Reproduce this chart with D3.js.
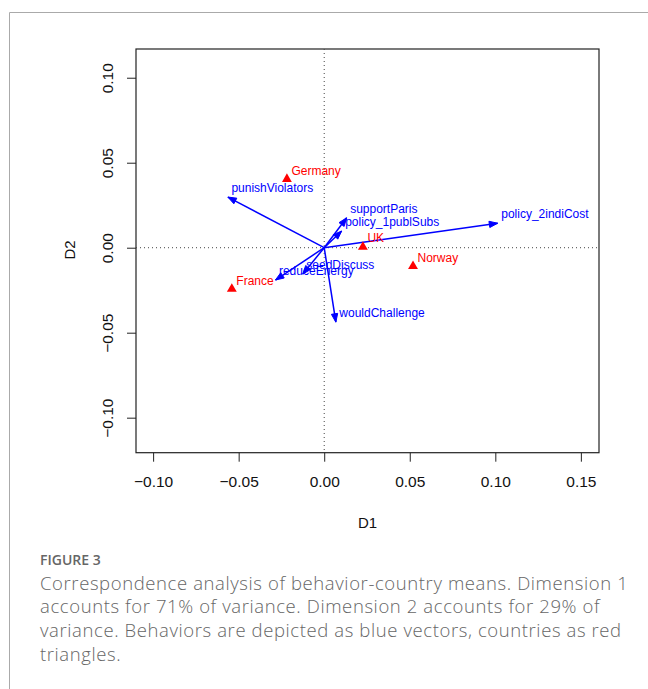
<!DOCTYPE html>
<html>
<head>
<meta charset="utf-8">
<script src="https://cdn.jsdelivr.net/npm/d3@7"></script>
<style>
  body { margin: 0; background: #fff; }
  svg text { font-family: "Liberation Sans", Arial, sans-serif; }
  svg text.caption { font-family: "Open Sans", "Lato", sans-serif; }
</style>
</head>
<body>
<div id="chart"></div>
<script>
// Behaviors (blue vectors)
var behaviors = ["punishViolators", "supportParis", "policy_1publSubs", "policy_2indiCost",
                 "seedDiscuss", "reduceEnergy", "wouldChallenge"]
var behaviorD1 = [-0.0563, 0.0131, 0.0102, 0.1014, -0.0125, -0.0285, 0.0068]
var behaviorD2 = [0.0298, 0.0176, 0.0098, 0.0144, -0.0155, -0.0190, -0.0438]

// Countries (red triangles)
var countries = ["Germany", "UK", "Norway", "France"]
var countryD1 = [-0.0218, 0.0226, 0.0519, -0.0540]
var countryD2 = [0.0404, 0.0005, -0.0108, -0.0243]

var xTicks = [-0.10, -0.05, 0.00, 0.05, 0.10, 0.15]
var yTicks = [-0.10, -0.05, 0.00, 0.05, 0.10]

var captionTitle = "FIGURE 3"
var captionLines = [
  "Correspondence analysis of behavior-country means. Dimension 1",
  "accounts for 71% of variance. Dimension 2 accounts for 29% of",
  "variance. Behaviors are depicted as blue vectors, countries as red",
  "triangles."
]

var W = 648, H = 689
var plot = { left: 136, right: 599, top: 49, bottom: 452.7 }

var svg = d3.select("#chart").append("svg")
  .attr("width", W).attr("height", H)

// outer frame of the figure panel
svg.append("path")
  .attr("d", "M9.5," + H + " V12.5 H" + W)
  .attr("fill", "none").attr("stroke", "#aaa").attr("stroke-width", 1)

var x = d3.scaleLinear().domain([-0.110, 0.1606]).range([plot.left, plot.right])
var y = d3.scaleLinear().domain([-0.1206, 0.1169]).range([plot.bottom, plot.top])

var fmt = d3.format(".2f")

// axes
var xAxis = svg.append("g")
  .attr("transform", "translate(0," + plot.bottom + ")")
  .call(d3.axisBottom(x).tickValues(xTicks).tickFormat(fmt).tickSize(9).tickPadding(14))
xAxis.select(".domain").remove()
xAxis.selectAll("line").attr("stroke", "#222")
xAxis.selectAll("text").attr("font-size", 15.5).attr("fill", "#111")
  .attr("font-family", "Liberation Sans, Arial, sans-serif")

var yAxis = svg.append("g")
  .attr("transform", "translate(" + plot.left + ",0)")
  .call(d3.axisLeft(y).tickValues(yTicks).tickFormat(fmt).tickSize(9))
yAxis.select(".domain").remove()
yAxis.selectAll("line").attr("stroke", "#222")
yAxis.selectAll("text")
  .attr("font-size", 15.5).attr("fill", "#111")
  .attr("font-family", "Liberation Sans, Arial, sans-serif")
  .attr("x", null).attr("dy", null)
  .attr("text-anchor", "middle")
  .attr("dominant-baseline", "central")
  .attr("transform", "translate(-29,0) rotate(-90)")

// box
svg.append("rect")
  .attr("x", plot.left).attr("y", plot.top)
  .attr("width", plot.right - plot.left).attr("height", plot.bottom - plot.top)
  .attr("fill", "none").attr("stroke", "#222").attr("stroke-width", 1.2)

// dotted reference lines at zero
svg.append("line")
  .attr("x1", x(0)).attr("x2", x(0)).attr("y1", plot.top).attr("y2", plot.bottom)
  .attr("stroke", "#444").attr("stroke-dasharray", "1,3")
svg.append("line")
  .attr("x1", plot.left).attr("x2", plot.right).attr("y1", y(0)).attr("y2", y(0))
  .attr("stroke", "#444").attr("stroke-dasharray", "1,3")

// axis titles
svg.append("text")
  .attr("x", (plot.left + plot.right) / 2).attr("y", 522)
  .attr("text-anchor", "middle").attr("dominant-baseline", "central")
  .attr("font-size", 15).attr("fill", "#111").text("D1")
svg.append("text")
  .attr("transform", "translate(69,250) rotate(-90)")
  .attr("text-anchor", "middle").attr("dominant-baseline", "central")
  .attr("font-size", 15).attr("fill", "#111").text("D2")

// vectors
var blue = "#0000ff", red = "#ff0000"
var vecs = behaviors.map(function (name, i) {
  return { name: name, d1: behaviorD1[i], d2: behaviorD2[i] }
})

var vg = svg.append("g")
vg.selectAll("line.vec")
  .data(vecs).enter().append("line")
  .attr("class", "vec")
  .attr("x1", x(0)).attr("y1", y(0))
  .attr("x2", function (d) { return x(d.d1) })
  .attr("y2", function (d) { return y(d.d2) })
  .attr("stroke", blue).attr("stroke-width", 1.5)

// arrow heads
vg.selectAll("path.head")
  .data(vecs).enter().append("path")
  .attr("class", "head")
  .attr("d", function (d) {
    var tx = x(d.d1), ty = y(d.d2)
    var a = Math.atan2(ty - y(0), tx - x(0))
    var len = 9, spread = 0.36
    var p1 = [tx - len * Math.cos(a - spread), ty - len * Math.sin(a - spread)]
    var p2 = [tx - len * Math.cos(a + spread), ty - len * Math.sin(a + spread)]
    return "M" + tx + "," + ty + "L" + p1 + "L" + p2 + "Z"
  })
  .attr("fill", blue).attr("stroke", blue).attr("stroke-width", 1)

vg.selectAll("text")
  .data(vecs).enter().append("text")
  .attr("x", function (d) { return x(d.d1) + 3.5 })
  .attr("y", function (d) { return y(d.d2) - 9 })
  .attr("dominant-baseline", "central")
  .attr("font-size", 12).attr("fill", blue)
  .text(function (d) { return d.name })

// countries
var pts = countries.map(function (name, i) {
  return { name: name, d1: countryD1[i], d2: countryD2[i] }
})
var cg = svg.append("g")
cg.selectAll("path")
  .data(pts).enter().append("path")
  .attr("d", d3.symbol().type(d3.symbolTriangle).size(42))
  .attr("transform", function (d) { return "translate(" + x(d.d1) + "," + y(d.d2) + ")" })
  .attr("fill", red)
cg.selectAll("text")
  .data(pts).enter().append("text")
  .attr("x", function (d) { return x(d.d1) + 4.5 })
  .attr("y", function (d) { return y(d.d2) - 8.5 })
  .attr("dominant-baseline", "central")
  .attr("font-size", 12).attr("fill", red)
  .text(function (d) { return d.name })

// caption
svg.append("text")
  .attr("class", "caption")
  .attr("x", 40).attr("y", 565)
  .attr("font-size", 14).attr("font-weight", 600).attr("fill", "#666")
  .text(captionTitle)

svg.append("g").selectAll("text")
  .data(captionLines).enter().append("text")
  .attr("class", "caption")
  .attr("x", 40)
  .attr("y", function (d, i) { return 589.5 + i * 23.7 })
  .attr("font-size", 18.5).attr("font-weight", 300).attr("fill", "#666")
  .attr("letter-spacing", 0.6)
  .text(function (d) { return d })
</script>
</body>
</html>
